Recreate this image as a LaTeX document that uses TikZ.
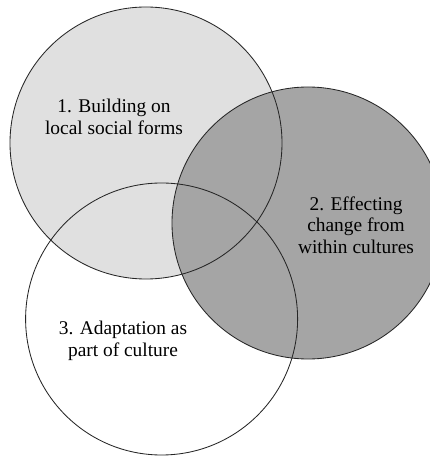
\documentclass[tikz,border=0pt]{standalone}
\usepackage{fontspec}
\setmainfont{Liberation Serif}
\newfontfamily\timesfont{Liberation Serif}
\definecolor{lightfill}{RGB}{224,224,224}
\definecolor{darkfill}{RGB}{165,165,165}
\tikzset{
  ring/.style={draw=black!85, line width=0.6pt},
  circletext/.style={align=center, font=\timesfont\fontsize{13.8}{15.4}\selectfont}
}
\begin{document}
\begin{tikzpicture}
\clip (0,0) rectangle (10.75,11.4);
\useasboundingbox (0,0) rectangle (10.75,11.4);
% 圆心
\coordinate (O1) at (3.65,7.825);
\coordinate (O2) at (7.7,5.825);
\coordinate (O3) at (4.04,3.425);
% 填充
\fill[white] (O3) circle (3.4);
\fill[lightfill] (O1) circle (3.4);
\fill[darkfill] (O2) circle (3.4);
% 轮廓
\draw[ring] (O1) circle (3.4);
\draw[ring] (O2) circle (3.4);
\draw[ring] (O3) circle (3.4);
% 文字
\node[circletext] (t1) at (2.85,8.475) {1. Building on\\local social forms};
\node[circletext] (t2) at (8.9,5.775) {2. Effecting\\change from\\within cultures};
\node[circletext] (t3) at (3.075,2.875) {3. Adaptation as\\part of culture};
\end{tikzpicture}
\end{document}
